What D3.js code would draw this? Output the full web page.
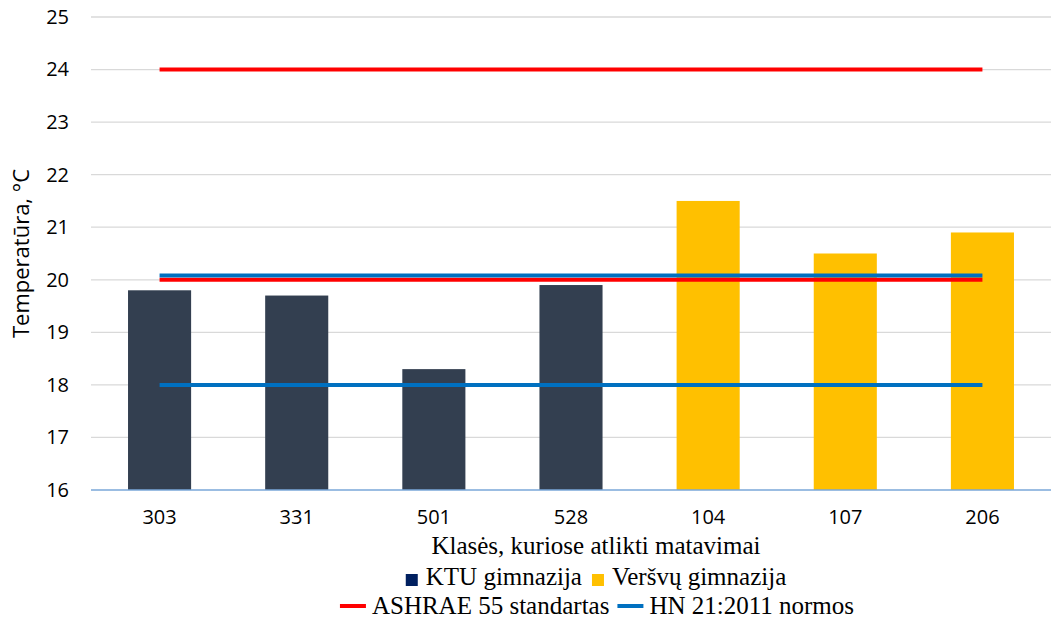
<!DOCTYPE html>
<html>
<head>
<meta charset="utf-8">
<script src="https://cdn.jsdelivr.net/npm/d3@7"></script>
<style>
  html, body { margin: 0; padding: 0; background: #fff; }
  svg { display: block; }
  .serif { font-family: "Liberation Serif", Tinos, "Times New Roman", serif; }
  .sans { font-family: "Open Sans", "Liberation Sans", sans-serif; }
</style>
</head>
<body>
<svg id="chart" width="1051" height="621"></svg>
<script>
// Classrooms where measurements were taken
const categories = ["303", "331", "501", "528", "104", "107", "206"];
// Measured temperature per classroom (°C)
const temperatures = [19.8, 19.7, 18.3, 19.9, 21.5, 20.5, 20.9];
// School each classroom belongs to
const schools = ["KTU gimnazija", "KTU gimnazija", "KTU gimnazija", "KTU gimnazija",
                 "Veršvų gimnazija", "Veršvų gimnazija", "Veršvų gimnazija"];
const schoolNames = ["KTU gimnazija", "Veršvų gimnazija"];
// Comfort limits (lower, upper)
const ashraeLimits = [20, 24];
const hnLimits = [18, 20.08];
const yTicks = [16, 17, 18, 19, 20, 21, 22, 23, 24, 25];

const barColor = { "KTU gimnazija": "#333f50", "Veršvų gimnazija": "#ffc000" };
const legendSwatch = { "KTU gimnazija": "#002060", "Veršvų gimnazija": "#ffc000" };
const ashraeColor = "#ff0000";
const hnColor = "#0070c0";

const svg = d3.select("#chart");
const margin = { left: 91, right: 1051, top: 17, bottom: 490 };

const x = d3.scaleBand().domain(categories)
  .range([margin.left, margin.right]).paddingInner(0.54).paddingOuter(0.27);
const y = d3.scaleLinear().domain([16, 25]).range([margin.bottom, margin.top]);

// Gridlines
svg.append("g").selectAll("line").data(yTicks.filter(t => t > 16)).join("line")
  .attr("x1", margin.left).attr("x2", margin.right)
  .attr("y1", d => y(d)).attr("y2", d => y(d))
  .attr("stroke", "#d9d9d9").attr("stroke-width", 1.3);

// Y axis labels
const yAxis = svg.append("g")
  .attr("transform", `translate(${margin.left - 10},0)`)
  .call(d3.axisLeft(y).tickValues(yTicks).tickSize(0).tickPadding(12).tickFormat(d3.format("d")));
yAxis.attr("font-family", null).attr("font-size", null);
yAxis.select(".domain").remove();
yAxis.selectAll("text").attr("class", "sans").style("font-size", "20px").attr("fill", "#000");

// Bars
svg.append("g").selectAll("rect").data(categories).join("rect")
  .attr("x", d => x(d))
  .attr("width", x.bandwidth())
  .attr("y", (d, i) => y(temperatures[i]))
  .attr("height", (d, i) => y(16) - y(temperatures[i]))
  .attr("fill", (d, i) => barColor[schools[i]]);

// Baseline / X axis
const xAxis = svg.append("g")
  .attr("transform", `translate(0,${y(16)})`)
  .call(d3.axisBottom(x).tickSize(0).tickPadding(20));
xAxis.attr("font-family", null).attr("font-size", null);
xAxis.select(".domain").attr("stroke", "#7aa7d8").attr("stroke-width", 1.5)
  .attr("d", `M${margin.left},0H${margin.right}`);
xAxis.selectAll("text").attr("class", "sans").style("font-size", "20px").attr("fill", "#000");

// Limit lines spanning first to last category centre
const xStart = x(categories[0]) + x.bandwidth() / 2;
const xEnd = x(categories[categories.length - 1]) + x.bandwidth() / 2;
const limitLines = [
  ...ashraeLimits.map(v => ({ v, c: ashraeColor })),
  ...hnLimits.map(v => ({ v, c: hnColor }))
];
svg.append("g").selectAll("line").data(limitLines).join("line")
  .attr("x1", xStart).attr("x2", xEnd)
  .attr("y1", d => y(d.v)).attr("y2", d => y(d.v))
  .attr("stroke", d => d.c).attr("stroke-width", 4);

// Axis titles
svg.append("text")
  .attr("class", "sans")
  .attr("transform", `translate(29,${(margin.top + margin.bottom) / 2}) rotate(-90)`)
  .attr("text-anchor", "middle")
  .style("font-size", "22px").attr("fill", "#000")
  .text("Temperatūra, °C");

svg.append("text")
  .attr("class", "serif")
  .attr("x", 596).attr("y", 554)
  .attr("text-anchor", "middle")
  .style("font-size", "25px").attr("fill", "#000")
  .text("Klasės, kuriose atlikti matavimai");

// Legend row 1: schools
const leg1 = svg.append("g");
let cx = 403;
schoolNames.forEach(name => {
  leg1.append("rect").attr("x", cx).attr("y", 574).attr("width", 12).attr("height", 12)
    .attr("fill", legendSwatch[name]);
  const t = leg1.append("text").attr("class", "serif").attr("x", cx + 20).attr("y", 585)
    .style("font-size", "25px").attr("fill", "#000").text(name);
  cx += 20 + t.node().getComputedTextLength() + 10;
});
const b1 = leg1.node().getBBox();
leg1.attr("transform", `translate(${596 - (b1.x + b1.width / 2)},0)`);

// Legend row 2: limits
const leg2 = svg.append("g");
const limitLegend = [
  { name: "ASHRAE 55 standartas", c: ashraeColor },
  { name: "HN 21:2011 normos", c: hnColor }
];
cx = 330;
limitLegend.forEach(d => {
  leg2.append("line").attr("x1", cx).attr("x2", cx + 26).attr("y1", 606).attr("y2", 606)
    .attr("stroke", d.c).attr("stroke-width", 4);
  const t = leg2.append("text").attr("class", "serif").attr("x", cx + 32).attr("y", 614)
    .style("font-size", "25px").attr("fill", "#000").text(d.name);
  cx += 32 + t.node().getComputedTextLength() + 8;
});
const b2 = leg2.node().getBBox();
leg2.attr("transform", `translate(${597 - (b2.x + b2.width / 2)},0)`);
</script>
</body>
</html>
